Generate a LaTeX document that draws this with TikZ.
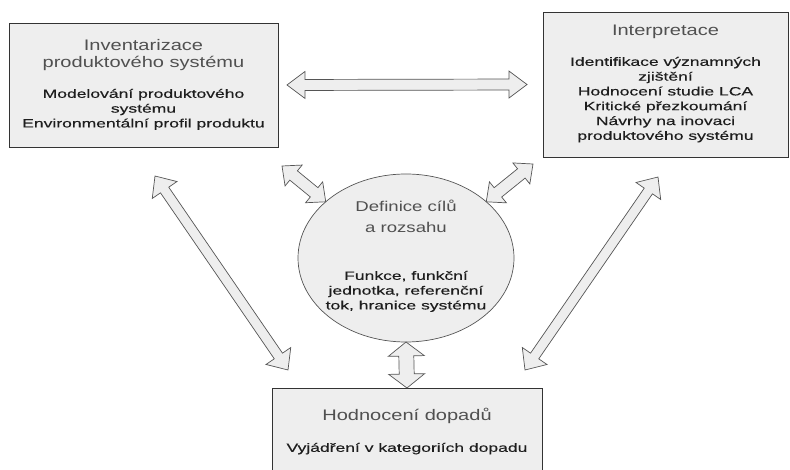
\documentclass[tikz,border=0pt]{standalone}
\usepackage{fontspec}
\setmainfont{Liberation Sans}
\newfontfamily\headfont{Liberation Sans}[FakeStretch=1.31]
\newfontfamily\bodyfont{Liberation Sans}[FakeStretch=1.46, FakeBold=0.25]
\usepackage{tikz}
\usetikzlibrary{positioning, calc, shapes.geometric}
\definecolor{BoxFill}{HTML}{EEEEEE}
\definecolor{BoxLine}{HTML}{333333}
\definecolor{ArrowLine}{HTML}{555555}
\definecolor{TitleGray}{HTML}{505050}
\definecolor{BodyInk}{HTML}{1E1E1E}

% block double arrow: from, to, shaft half width, head half width, head length
\newcommand{\dblarrow}[5]{%
  \draw[fatarrow] (#1)
    -- ($(#1)!#5!(#2)!#4!90:(#2)$) -- ($(#1)!#5!(#2)!#3!90:(#2)$)
    -- ($(#2)!#5!(#1)!#3!-90:(#1)$) -- ($(#2)!#5!(#1)!#4!-90:(#1)$)
    -- (#2)
    -- ($(#2)!#5!(#1)!#4!90:(#1)$) -- ($(#2)!#5!(#1)!#3!90:(#1)$)
    -- ($(#1)!#5!(#2)!#3!-90:(#2)$) -- ($(#1)!#5!(#2)!#4!-90:(#2)$)
    -- cycle;}

\begin{document}
\begin{tikzpicture}[x=1pt, y=-1pt,
    stagebox/.style={draw=BoxLine, fill=BoxFill, line width=0.8pt, inner sep=0pt, outer sep=0pt},
    headtext/.style={inner sep=0pt, outer sep=0pt, align=center, text=TitleGray, font=\headfont\fontsize{15.3}{17.5}\selectfont},
    bodytext/.style={inner sep=0pt, outer sep=0pt, align=center, text=BodyInk, font=\bodyfont\fontsize{12}{14.8}\selectfont},
    fatarrow/.style={draw=ArrowLine, fill=BoxFill, line width=0.7pt, line join=miter}]
  \useasboundingbox (0,0) rectangle (790,470);

  \node[stagebox, minimum width=269pt, minimum height=124pt] (inv) at (143.5,85) {};
  \node[headtext, below=16pt of inv.north] (invhead) {Inventarizace\\produktového systému};
  \node[bodytext, below=66pt of inv.north] (invbody) {Modelování produktového\\systému\\Environmentální profil produktu};

  \node[stagebox, minimum width=245pt, minimum height=145pt] (interp) at (665.5,84.5) {};
  \node[headtext, below=13pt of interp.north] (interphead) {Interpretace};
  \node[bodytext, below=45pt of interp.north] (interpbody) {Identifikace významných\\zjištění\\Hodnocení studie LCA\\Kritické přezkoumání\\Návrhy na inovaci\\produktového systému};

  \node[stagebox, ellipse, draw=ArrowLine, line width=0.7pt, minimum width=216pt, minimum height=168pt] (goal) at (406,258) {};
  \node[headtext, font=\headfont\fontsize{14.2}{21}\selectfont, below=26pt of goal.north] (goalhead) {Definice cílů\\a rozsahu};
  \node[bodytext, below=97pt of goal.north] (goalbody) {Funkce, funkční\\jednotka, referenční\\tok, hranice systému};

  \node[stagebox, minimum width=270pt, minimum height=90pt] (impact) at (407,433) {};
  \node[headtext, below=20pt of impact.north] (impacthead) {Hodnocení dopadů};
  \node[bodytext, below=55pt of impact.north] (impactbody) {Vyjádření v kategoriích dopadu};

  \coordinate (invR) at ($(inv.east)+(9,0)$);
  \coordinate (interpL) at ($(interp.west)+(-16,0)$);
  \coordinate (invC) at (282,166);
  \coordinate (interpC) at (533,164);
  \coordinate (invD) at (155,176);
  \coordinate (impactL) at (288,370);
  \coordinate (interpD) at (658,177);
  \coordinate (impactR) at (525,370);

  \dblarrow{invR}{interpL}{5.5pt}{13.5pt}{18pt}
  \dblarrow{invC}{goal.145}{6pt}{13.5pt}{15pt}
  \dblarrow{interpC}{goal.35}{6pt}{13.5pt}{15pt}
  \dblarrow{invD}{impactL}{5pt}{15pt}{17pt}
  \dblarrow{interpD}{impactR}{5pt}{15pt}{17pt}
  \dblarrow{goal.south}{impact.north}{7.5pt}{18pt}{14pt}
\end{tikzpicture}
\end{document}
